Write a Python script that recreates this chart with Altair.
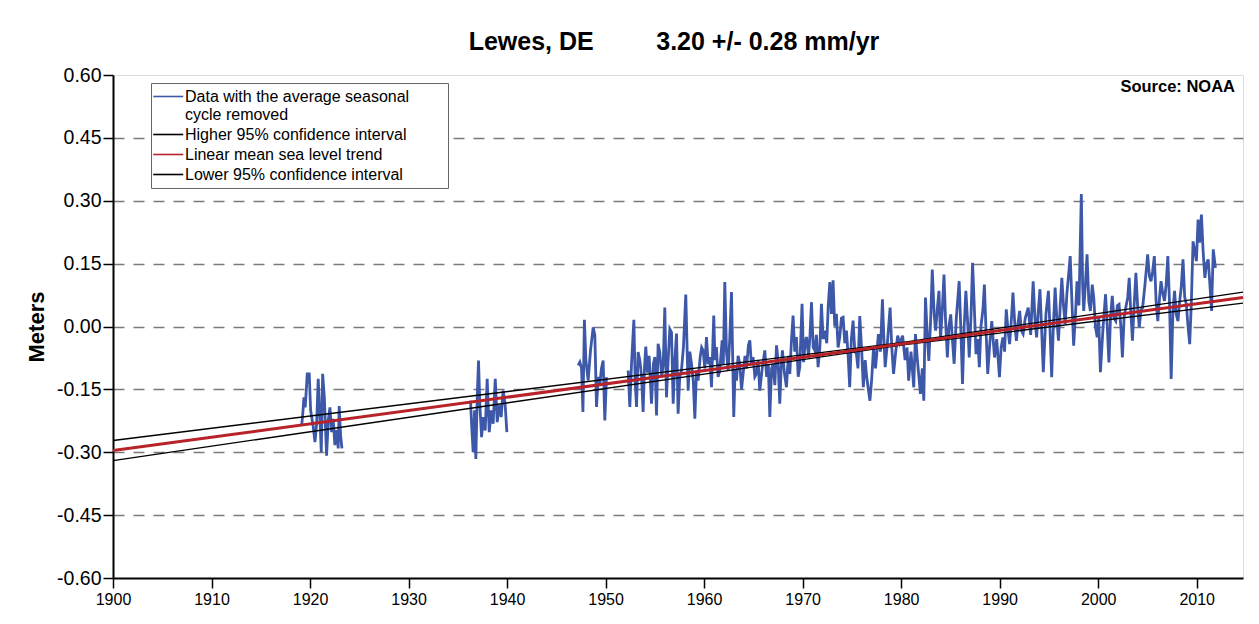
import altair as alt
import pandas as pd

# ---------------- data ----------------
series_names = [
    "Data with the average seasonal cycle removed",
    "Higher 95% confidence interval",
    "Linear mean sea level trend",
    "Lower 95% confidence interval",
]
series_colors = ["#3d58a8", "#000000", "#b8232a", "#000000"]

seg1_years = [1919.15, 1919.25, 1919.38, 1919.51, 1919.72, 1919.92, 1920.06, 1920.33, 1920.5,
              1920.67, 1920.83, 1921.0, 1921.14, 1921.28, 1921.45, 1921.68, 1921.85, 1922.02,
              1922.19, 1922.35, 1922.52, 1922.7, 1922.86, 1922.96, 1923.1, 1923.24]
seg1_values = [-0.236, -0.212, -0.169, -0.193, -0.113, -0.113, -0.200, -0.240, -0.276,
               -0.232, -0.125, -0.216, -0.300, -0.113, -0.169, -0.308, -0.224, -0.193,
               -0.252, -0.220, -0.283, -0.247, -0.291, -0.190, -0.259, -0.291]

seg2_years = [1936.29, 1936.43, 1936.56, 1936.7, 1936.83, 1936.97, 1937.1, 1937.24, 1937.41,
              1937.58, 1937.78, 1937.98, 1938.19, 1938.39, 1938.59, 1938.8, 1939.0, 1939.2,
              1939.4, 1939.6, 1939.8, 1939.98]
seg2_values = [-0.177, -0.248, -0.300, -0.200, -0.316, -0.169, -0.081, -0.188, -0.264,
               -0.216, -0.248, -0.125, -0.252, -0.200, -0.232, -0.125, -0.228, -0.188,
               -0.216, -0.153, -0.184, -0.252]

seg3_years = [1947.22, 1947.39, 1947.56, 1947.70, 1947.85, 1948.0, 1948.23, 1948.47, 1948.74,
              1948.91, 1949.08, 1949.25, 1949.42, 1949.58, 1949.75, 1949.92, 1950.09]
seg3_values = [-0.093, -0.085, -0.100, -0.204, 0.016, -0.08, -0.129, -0.057, -0.002,
               -0.021, -0.192, -0.12, -0.137, -0.10, -0.081, -0.224, -0.121]

seg4_years = [
    1952.29, 1952.46, 1952.63, 1952.87, 1953.0, 1953.14, 1953.3, 1953.48, 1953.65, 1953.81,
    1953.95, 1954.08, 1954.25, 1954.42, 1954.66, 1954.85, 1955.0, 1955.17, 1955.33, 1955.50,
    1955.7, 1955.85, 1956.01, 1956.18, 1956.35, 1956.52, 1956.69, 1956.86, 1957.03, 1957.20,
    1957.36, 1957.53, 1957.70, 1957.9, 1958.14, 1958.38, 1958.55, 1958.72, 1958.9, 1959.06,
    1959.22, 1959.39, 1959.6, 1959.75, 1959.90, 1960.07, 1960.24, 1960.41, 1960.58, 1960.75,
    1960.98, 1961.1, 1961.25, 1961.42, 1961.59, 1961.83, 1961.95, 1962.10, 1962.27, 1962.44,
    1962.6, 1962.78, 1963.01, 1963.15, 1963.29, 1963.45, 1963.62, 1963.8, 1963.96, 1964.15,
    1964.3, 1964.5, 1964.64, 1964.8, 1964.97, 1965.15, 1965.31, 1965.48, 1965.65, 1965.9,
    1966.16, 1966.35, 1966.52, 1966.67, 1966.85, 1967.0, 1967.18, 1967.35, 1967.5, 1967.68,
    1967.82, 1967.95, 1968.15, 1968.36, 1968.55, 1968.70, 1968.85, 1969.03, 1969.2, 1969.37,
    1969.55, 1969.71, 1969.94, 1970.1, 1970.25, 1970.39, 1970.6, 1970.75, 1970.90, 1971.07,
    1971.23, 1971.4, 1971.57, 1971.75, 1971.91, 1972.08, 1972.25, 1972.45, 1972.6, 1972.76,
    1972.92, 1973.09, 1973.26, 1973.43, 1973.6, 1973.77, 1973.94, 1974.11, 1974.28, 1974.45,
    1974.62, 1974.78, 1974.95, 1975.12, 1975.3, 1975.46, 1975.62, 1975.80,
    1976.0, 1976.16, 1976.35, 1976.5, 1976.83, 1977.0, 1977.2, 1977.4, 1977.69, 1977.9,
    1978.10, 1978.25, 1978.38, 1978.6, 1978.88, 1979.05, 1979.23, 1979.45, 1979.65, 1979.85,
    1980.15, 1980.4, 1980.6, 1980.76, 1981.0, 1981.28, 1981.45, 1981.65, 1981.96, 1982.15,
    1982.30, 1982.47, 1982.65, 1982.81, 1983.0, 1983.16, 1983.35, 1983.50, 1983.7, 1983.84,
    1984.0, 1984.2, 1984.35, 1984.5, 1984.69, 1984.85, 1985.03, 1985.2, 1985.38, 1985.6,
    1985.89, 1986.05, 1986.23, 1986.4, 1986.57, 1986.75, 1986.91, 1987.1, 1987.25, 1987.42,
    1987.60, 1987.78, 1987.94, 1988.1, 1988.3, 1988.45, 1988.6, 1988.79, 1989.0, 1989.2,
    1989.48, 1989.7, 1989.98, 1990.15, 1990.33, 1990.5, 1990.67, 1990.85, 1991.01, 1991.2,
    1991.35, 1991.55, 1991.70, 1991.87, 1992.03, 1992.2, 1992.38, 1992.6, 1992.90, 1993.15,
    1993.40, 1993.58, 1993.75, 1993.9, 1994.09, 1994.25, 1994.43, 1994.7, 1994.95, 1995.1,
    1995.28, 1995.45, 1995.63, 1995.8, 1995.97, 1996.15, 1996.31, 1996.48, 1996.65, 1996.83,
    1997.0, 1997.16, 1997.35, 1997.51, 1997.7, 1997.85, 1998.05, 1998.29, 1998.42, 1998.53,
    1998.7, 1998.87, 1999.05, 1999.21, 1999.4, 1999.55, 1999.72, 1999.90, 2000.05, 2000.23,
    2000.5, 2000.75, 2000.92, 2001.09, 2001.25, 2001.43, 2001.6, 2001.78, 2001.95, 2002.12,
    2002.3, 2002.46, 2002.63, 2002.80, 2003.0, 2003.15, 2003.3, 2003.48, 2003.65, 2003.83,
    2004.0, 2004.17, 2004.35, 2004.51, 2004.75, 2005.02, 2005.2, 2005.36, 2005.52, 2005.70,
    2005.88, 2006.05, 2006.2, 2006.38, 2006.55, 2006.73, 2006.9, 2007.07, 2007.25, 2007.41,
    2007.58, 2007.75, 2007.92, 2008.10, 2008.27, 2008.43, 2008.61, 2008.78, 2008.95, 2009.12,
    2009.29, 2009.46, 2009.63, 2009.8, 2009.97, 2010.14, 2010.3, 2010.48, 2010.65, 2010.83,
    2011.0, 2011.17, 2011.34, 2011.51, 2011.68, 2011.9]
seg4_values = [
    -0.105, -0.192, -0.09, 0.016, -0.129, -0.192, -0.061, -0.081, -0.12, -0.204,
    -0.097, -0.048, -0.11, -0.07, -0.184, -0.09, -0.073, -0.212, -0.041, -0.061,
    -0.12, -0.09, 0.045, -0.169, -0.08, -0.006, -0.014, -0.184, -0.08, -0.017,
    -0.208, -0.12, -0.105, -0.05, 0.076, -0.153, -0.06, -0.089, -0.13, -0.220,
    -0.11, -0.129, -0.073, -0.05, -0.057, -0.10, -0.025, -0.09, -0.073, -0.145,
    0.026, -0.08, -0.049, -0.12, -0.105, -0.033, -0.09, 0.106, -0.06, -0.105,
    -0.03, 0.082, -0.216, -0.10, -0.129, -0.07, -0.089, -0.15, -0.113, -0.07,
    -0.10, -0.045, -0.033, -0.09, -0.073, -0.12, -0.113, -0.08, -0.153, -0.10,
    -0.057, -0.12, -0.09, -0.216, -0.10, -0.089, -0.14, -0.045, -0.08, -0.184,
    -0.10, -0.057, -0.11, -0.145, -0.07, -0.113, -0.04, 0.026, -0.06, -0.025,
    -0.12, -0.097, 0.054, -0.085, -0.04, -0.025, -0.07, -0.02, 0.058, -0.05,
    -0.057, -0.02, -0.097, -0.05, 0.054, -0.03, -0.010, -0.04, 0.05, 0.106,
    0.03, 0.110, 0.0, 0.030, -0.05, -0.025, 0.02, 0.022, -0.04, -0.010,
    -0.07, -0.145, -0.03, 0.014, -0.06, -0.065, -0.10, 0.025,
    -0.06, -0.145, -0.08, -0.12, -0.177, -0.13, -0.05, -0.10, -0.018, -0.06,
    0.065, -0.03, -0.097, -0.04, 0.045, -0.05, -0.113, -0.06, -0.022, -0.04,
    -0.022, -0.08, -0.05, -0.129, -0.06, -0.145, -0.018, -0.08, -0.161, -0.10,
    -0.177, 0.069, -0.02, -0.082, 0.02, 0.136, 0.03, -0.010, 0.05, 0.085,
    -0.03, 0.05, 0.124, 0.02, -0.074, 0.0, 0.029, -0.03, -0.089, 0.02,
    0.108, 0.0, -0.137, 0.0, 0.085, 0.01, -0.074, 0.03, 0.152, 0.05,
    -0.066, -0.03, -0.097, 0.0, 0.04, 0.10, 0.0, -0.113, -0.04, 0.013,
    -0.074, -0.03, -0.121, -0.05, -0.026, -0.06, 0.041, -0.01, -0.042, 0.02,
    0.081, 0.0, -0.034, 0.01, 0.037, -0.01, -0.018, 0.02, 0.045, -0.02,
    0.108, 0.02, -0.026, 0.03, 0.089, 0.0, -0.109, 0.03, 0.085, 0.0,
    -0.121, 0.0, 0.093, 0.02, -0.034, 0.05, 0.116, 0.05, 0.006, 0.08,
    0.124, 0.168, 0.05, -0.046, 0.03, 0.108, 0.05, 0.316, 0.10, 0.037,
    0.10, 0.172, 0.06, 0.037, 0.10, 0.069, 0.0, -0.026, 0.02, -0.109,
    0.0, 0.077, 0.0, -0.086, 0.02, 0.073, 0.02, 0.013, 0.05, 0.053,
    0.0, -0.074, 0.02, 0.045, 0.07, 0.116, 0.04, -0.034, 0.05, 0.128,
    0.05, -0.002, 0.04, 0.045, 0.10, 0.172, 0.12, 0.108, 0.13, 0.168,
    0.06, 0.013, 0.06, 0.108, 0.08, 0.061, 0.10, 0.168, 0.05, -0.125,
    0.03, 0.085, 0.03, 0.013, 0.06, 0.093, 0.160, 0.07, 0.053, 0.0,
    -0.042, 0.06, 0.203, 0.18, 0.156, 0.255, 0.20, 0.267, 0.18, 0.116,
    0.15, 0.160, 0.10, 0.037, 0.184, 0.140]

trend_years = [1900, 1980, 2014.7]
upper_values = [-0.272, -0.0386, 0.082]
trend_values = [-0.296, -0.0416, 0.069]
lower_values = [-0.320, -0.0446, 0.056]

y_ticks = [-0.60, -0.45, -0.30, -0.15, 0.00, 0.15, 0.30, 0.45, 0.60]
x_ticks = [1900, 1910, 1920, 1930, 1940, 1950, 1960, 1970, 1980, 1990, 2000, 2010]

title_text = "Lewes, DE" + "\u00a0" * 9 + "3.20 +/- 0.28 mm/yr"
source_text = "Source: NOAA"

# ---------------- tables ----------------
rows = []
for seg, (ys, vs) in enumerate([(seg1_years, seg1_values), (seg2_years, seg2_values),
                                (seg3_years, seg3_values), (seg4_years, seg4_values)]):
    for yr, v in zip(ys, vs):
        rows.append({"year": yr, "value": v, "seg": seg, "series": series_names[0]})
data_df = pd.DataFrame(rows)

trows = []
for name, vals in [(series_names[1], upper_values), (series_names[2], trend_values),
                   (series_names[3], lower_values)]:
    for yr, v in zip(trend_years, vals):
        trows.append({"year": yr, "value": v, "series": name})
trend_df = pd.DataFrame(trows)

FONT = "Liberation Sans"

x_enc = alt.X(
    "year:Q",
    scale=alt.Scale(domain=[1900, 2014.7], nice=False, zero=False),
    axis=alt.Axis(values=x_ticks, format="d", title=None, grid=False, labelFlush=False,
                  labelFont=FONT, labelFontSize=16, labelColor="black",
                  tickColor="black", tickSize=10, tickWidth=1.5,
                  domainColor="black", domainWidth=2, labelPadding=3),
)
y_enc = alt.Y(
    "value:Q",
    scale=alt.Scale(domain=[-0.6, 0.6], nice=False, zero=False),
    axis=alt.Axis(values=y_ticks, title="Meters",
                  labelExpr="replace(format(datum.value, '.2f'), '\u2212', '-')",
                  labelFont=FONT, labelFontSize=19.5, labelColor="black",
                  titleFont=FONT, titleFontSize=22, titleFontWeight="bold",
                  titleColor="black", titlePadding=8,
                  tickColor="black", tickSize=10, tickWidth=1.5,
                  domainColor="black", domainWidth=2, labelPadding=2,
                  grid=True, gridDash=[11, 9], gridColor="#7a7a7a", gridWidth=1.5,
                  gridOpacity={"condition": {"test": "abs(datum.value) > 0.59", "value": 0},
                               "value": 1}),
)

legend_label_expr = (
    "datum.label == 'Data with the average seasonal cycle removed' ? "
    "['Data with the average seasonal', 'cycle removed'] : "
    "(datum.label == 'Higher 95% confidence interval' ? "
    "datum.label + '" + "\u00a0" * 8 + "\u200b' : datum.label)"
)

color_enc = alt.Color(
    "series:N",
    scale=alt.Scale(domain=series_names, range=series_colors),
    legend=alt.Legend(
        title=None, orient="none", legendX=38, legendY=8, direction="vertical",
        fillColor="white", strokeColor="#666666", padding=5,
        symbolType="M-1.5,0L2.5,0", symbolSize=225, symbolStrokeWidth=1.6,
        labelFont=FONT, labelFontSize=16, labelColor="black", labelLimit=500,
        labelOffset=12, rowPadding=3,
        labelExpr=legend_label_expr,
    ),
)

data_layer = alt.Chart(data_df).mark_line(strokeJoin="miter", strokeWidth=2.8).encode(
    x=x_enc, y=y_enc, color=color_enc, detail="seg:N"
)
ci_layer = alt.Chart(trend_df).transform_filter(
    alt.FieldOneOfPredicate(field="series", oneOf=[series_names[1], series_names[3]])
).mark_line(strokeWidth=1.3).encode(x="year:Q", y="value:Q", color="series:N")
red_layer = alt.Chart(trend_df).transform_filter(
    alt.FieldEqualPredicate(field="series", equal=series_names[2])
).mark_line(strokeWidth=3).encode(x="year:Q", y="value:Q", color="series:N")

source_layer = alt.Chart(pd.DataFrame({"t": [source_text]})).mark_text(
    align="right", baseline="middle", font=FONT, fontSize=16.5, fontWeight="bold",
    color="black"
).encode(x=alt.value(1122), y=alt.value(12), text="t:N")
title_layer = alt.Chart(pd.DataFrame({"t": [title_text]})).mark_text(
    align="center", baseline="alphabetic", font=FONT, fontSize=25, fontWeight="bold",
    color="black"
).encode(x=alt.value(561), y=alt.value(-25), text="t:N")

chart = alt.layer(data_layer, ci_layer, red_layer, source_layer, title_layer).properties(
    width=1130, height=503,
    autosize=alt.AutoSizeParams(type="none"),
    padding={"left": 105, "top": 67, "right": 6, "bottom": 30},
).configure_view(
    stroke="#555555", strokeWidth=1.5
).configure(background="white")

chart.save("out.html", embed_options={"renderer": "svg", "actions": False})
